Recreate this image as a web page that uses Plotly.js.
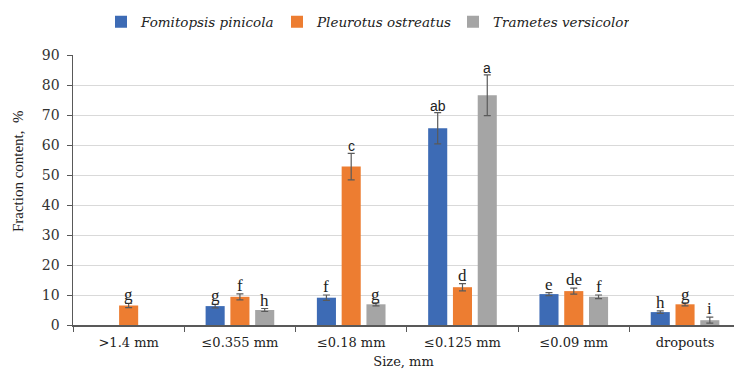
<!DOCTYPE html>
<html><head><meta charset="utf-8">
<script src="https://cdn.plot.ly/plotly-3.0.1.min.js"></script>
<style>html,body{margin:0;padding:0;background:#fff}#chart{width:734px;height:371px}</style>
</head><body><div id="chart"></div>
<script>
const categories = [">1.4 mm", "\u22640.355 mm", "\u22640.18 mm", "\u22640.125 mm", "\u22640.09 mm", "dropouts"];
const seriesNames = ["Fomitopsis pinicola", "Pleurotus ostreatus", "Trametes versicolor"];
const fomitopsis = [null, 6.3, 9.1, 65.6, 10.3, 4.3];
const pleurotus  = [6.5, 9.4, 52.8, 12.6, 11.3, 6.9];
const trametes   = [null, 5.0, 6.9, 76.6, 9.4, 1.6];
const fomitopsisErr = [0, 0.6, 0.9, 5.2, 0.5, 0.4];
const pleurotusErr  = [0.7, 1.0, 4.4, 1.2, 1.0, 0.5];
const trametesErr   = [0, 0.5, 0.5, 6.8, 0.6, 1.0];
const fomitopsisLetters = ["", "g", "f", "ab", "e", "h"];
const pleurotusLetters  = ["g", "f", "c", "d", "de", "g"];
const trametesLetters   = ["", "h", "g", "a", "f", "i"];
const colors = ["#3d6bb5", "#ed7d31", "#a5a5a5"];

const SERIF = 'Liberation Serif';
const WIDE = 'DejaVu Serif';
const SANS = 'Liberation Sans';

const vals = [fomitopsis, pleurotus, trametes];
const errs = [fomitopsisErr, pleurotusErr, trametesErr];
const letters = [fomitopsisLetters, pleurotusLetters, trametesLetters];
const sansLetters = {"a":1, "ab":1, "c":1};

const bargap = 0.332;
const slot = (1 - bargap) / 3;

const traces = vals.map((v, k) => ({
  type: 'bar', name: seriesNames[k], x: categories, y: v,
  marker: {color: colors[k]},
  error_y: {type: 'data', array: errs[k], visible: true, color: '#5a5a5a', thickness: 1.2, width: 3.5},
  hoverinfo: 'skip'
}));

const annotations = [];
vals.forEach((v, k) => {
  v.forEach((val, i) => {
    if (val === null || !letters[k][i]) return;
    const L = letters[k][i];
    annotations.push({
      xref: 'x', yref: 'y', x: i + (k - 1) * slot, y: val + errs[k][i],
      text: L, showarrow: false, yanchor: 'bottom', yshift: -3,
      font: sansLetters[L] ? {family: SANS, size: 14, color: '#222'}
                           : {family: SERIF, size: 17, color: '#222'}
    });
  });
});
annotations.push({
  xref: 'paper', yref: 'paper', x: -55 / 661, y: 0.57, xanchor: 'center', yanchor: 'middle',
  text: 'Fraction content,  %', textangle: -90, showarrow: false,
  font: {family: SERIF, size: 15, color: '#222'}
});

const layout = {
  width: 734, height: 371,
  margin: {l: 73, r: 0, t: 55, b: 46},
  paper_bgcolor: '#fff', plot_bgcolor: '#fff',
  barmode: 'group', bargap: bargap, bargroupgap: 0.23,
  font: {family: WIDE, color: '#333'},
  showlegend: true,
  legend: {orientation: 'h', x: 28 / 661, xanchor: 'left', y: 1.18, yanchor: 'top',
           font: {family: WIDE, size: 13.5, style: 'italic', color: '#222'},
           itemwidth: 30, entrywidth: 131, traceorder: 'normal'},
  xaxis: {
    type: 'category', range: [-0.5, 5.44],
    showline: true, linecolor: '#595959', linewidth: 1.5,
    ticks: 'outside', tickson: 'boundaries', ticklen: 5, tickcolor: '#595959',
    ticklabelstandoff: 5,
    tickfont: {family: WIDE, size: 13, color: '#222'},
    showgrid: false, zeroline: false, automargin: false,
    title: {text: 'Size, mm', font: {family: WIDE, size: 13, color: '#222'}, standoff: 8}
  },
  yaxis: {
    range: [0, 90], dtick: 10, tick0: 0,
    showline: true, linecolor: '#595959', linewidth: 1.5,
    ticks: 'outside', ticklen: 5, tickcolor: '#595959',
    ticklabelstandoff: 4,
    tickfont: {family: WIDE, size: 14, color: '#333'},
    showgrid: true, gridcolor: '#d9d9d9', gridwidth: 1, zeroline: false, automargin: false
  },
  annotations: annotations
};

Plotly.newPlot('chart', traces, layout, {displayModeBar: false, staticPlot: true});
</script></body></html>
